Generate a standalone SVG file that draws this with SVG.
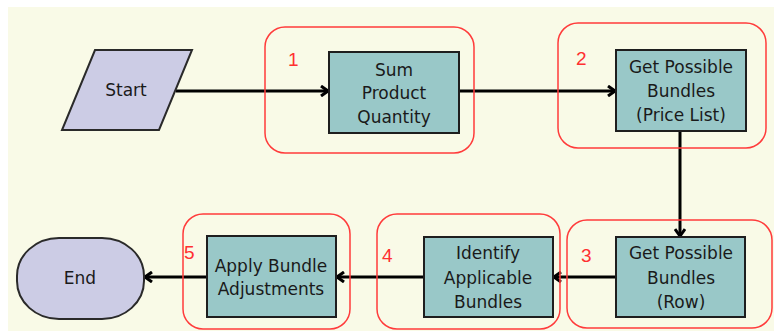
<svg xmlns="http://www.w3.org/2000/svg" width="774" height="331" viewBox="0 0 774 331">
<defs>
<style>
.bg{fill:#F9FAE7}
.grp{fill:none;stroke:#FF3B3B;stroke-width:1.5}
.box{fill:#99C8C8;stroke:#1E1E1E;stroke-width:2}
.term{fill:#CCCCE5;stroke:#2A2A2A;stroke-width:2}
.t{font-family:"DejaVu Sans",Verdana,sans-serif;font-size:17px;fill:#1A1A1A;text-anchor:middle}
.num{font-family:"Liberation Sans",Arial,sans-serif;font-size:19px;fill:#FF3030}
.conn{fill:none;stroke:#000;stroke-width:3}
</style>
<marker id="arr" viewBox="0 0 12 12" markerWidth="12" markerHeight="12" refX="10" refY="6" orient="auto" markerUnits="userSpaceOnUse">
<path d="M3,1 L10,6 L3,11" fill="none" stroke="#000" stroke-width="3"/>
</marker>
</defs>
<rect class="bg" x="8" y="7" width="766" height="324"/>
<g id="connectors">
<line class="conn" x1="176" y1="91" x2="328" y2="91" marker-end="url(#arr)"/>
<line class="conn" x1="459" y1="91" x2="615" y2="91" marker-end="url(#arr)"/>
<line class="conn" x1="680" y1="131" x2="680" y2="236" marker-end="url(#arr)"/>
<line class="conn" x1="616" y1="277" x2="554" y2="277" marker-end="url(#arr)"/>
<line class="conn" x1="424" y1="277" x2="337" y2="277" marker-end="url(#arr)"/>
<line class="conn" x1="207" y1="277" x2="145" y2="277" marker-end="url(#arr)"/>
</g>
<g id="start">
<polygon class="term" points="95,50 192,50 159,130 62,130"/>
<text class="t" x="126" y="96">Start</text>
</g>
<g id="group1">
<rect class="grp" x="265" y="27" width="209" height="126" rx="20"/>
<text class="num" x="288" y="66">1</text>
</g>
<g id="step1">
<rect class="box" x="329" y="52" width="130" height="81"/>
<text class="t" x="394" y="76">Sum</text>
<text class="t" x="394" y="99">Product</text>
<text class="t" x="394" y="123">Quantity</text>
</g>
<g id="group2">
<rect class="grp" x="558" y="23" width="208" height="125" rx="20"/>
<text class="num" x="576" y="65">2</text>
</g>
<g id="step2">
<rect class="box" x="616" y="50" width="130" height="81"/>
<text class="t" x="681" y="73">Get Possible</text>
<text class="t" x="681" y="97">Bundles</text>
<text class="t" x="681" y="121">(Price List)</text>
</g>
<g id="group3">
<rect class="grp" x="567" y="220" width="205" height="108" rx="20"/>
<text class="num" x="581" y="262">3</text>
</g>
<g id="step3">
<rect class="box" x="616" y="237" width="129" height="80"/>
<text class="t" x="681" y="259">Get Possible</text>
<text class="t" x="681" y="284">Bundles</text>
<text class="t" x="681" y="308">(Row)</text>
</g>
<g id="group4">
<rect class="grp" x="377" y="214" width="183" height="115" rx="20"/>
<text class="num" x="382" y="262">4</text>
</g>
<g id="step4">
<rect class="box" x="424" y="237" width="129" height="80"/>
<text class="t" x="488" y="259">Identify</text>
<text class="t" x="488" y="284">Applicable</text>
<text class="t" x="488" y="308">Bundles</text>
</g>
<g id="group5">
<rect class="grp" x="183" y="214" width="167" height="115" rx="20"/>
<text class="num" x="184" y="259">5</text>
</g>
<g id="step5">
<rect class="box" x="207" y="236" width="129" height="81"/>
<text class="t" x="271" y="272">Apply Bundle</text>
<text class="t" x="271" y="295">Adjustments</text>
</g>
<g id="end">
<rect class="term" x="17" y="238" width="127" height="81" rx="42" ry="38"/>
<text class="t" x="80" y="284">End</text>
</g>
</svg>
